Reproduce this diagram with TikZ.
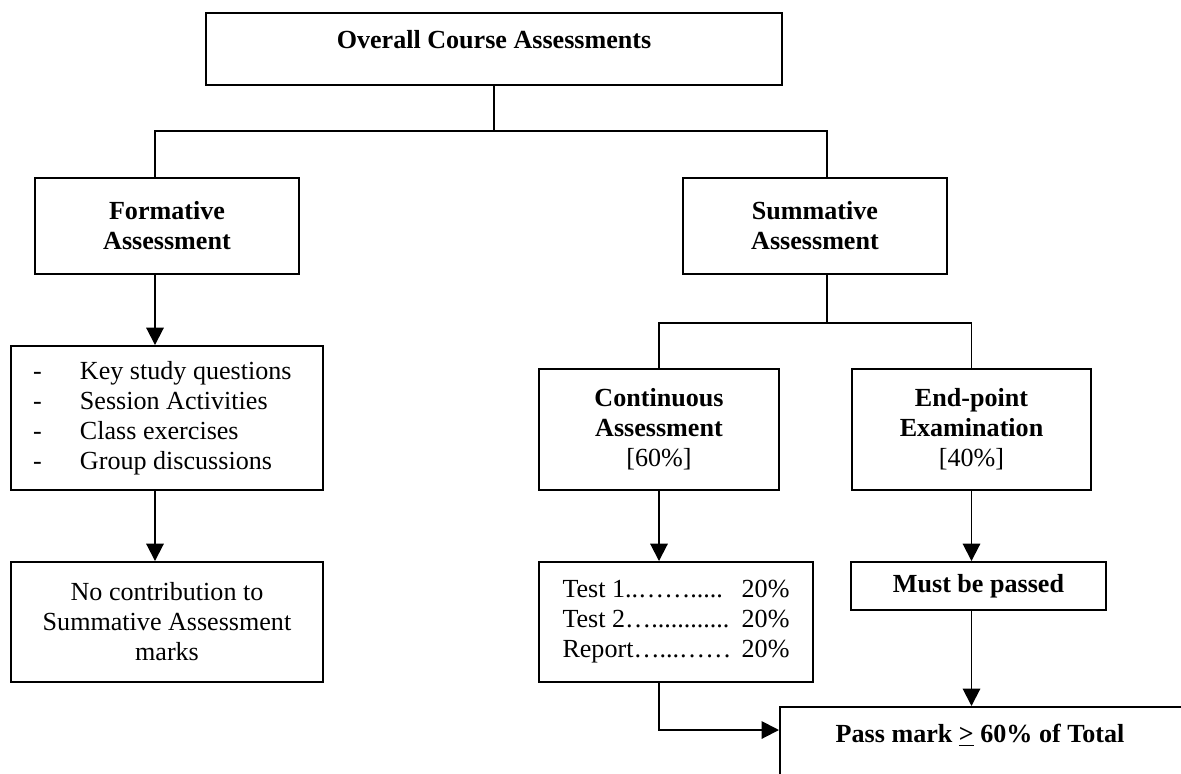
\documentclass[tikz,border=0pt]{standalone}
\usepackage{fontspec}
\setmainfont{Liberation Serif}
\usetikzlibrary{arrows.meta, positioning, calc}
\newlength{\pxu}
\setlength{\pxu}{0.46pt}

\begin{document}
\begin{tikzpicture}[
    x=0.46pt, y=-0.46pt,
    font=\fontsize{12}{13.8}\selectfont,
    box/.style 2 args={draw, line width=0.9pt, inner sep=0pt, align=center,
                       minimum width=#1\pxu, minimum height=#2\pxu},
    listbox/.style={align=left, text width=#1\pxu},
    link/.style={line width=0.9pt},
    arrow/.style={link, -{Triangle[length=8pt, width=8pt]}},
]
    \useasboundingbox (0,0) rectangle (1181,773);
    \clip (0,0) rectangle (1181,773);

    % top level
    \node[box={576}{72}] (overall) at (494,49) {};
    \node[anchor=base] (overalltxt) at (494,48) {\textbf{Overall Course Assessments}};

    % formative side
    \node[box={264}{96}] (formative) at (167,226) {\textbf{Formative}\\\textbf{Assessment}};
    \node[box={312}{144}, listbox=268] (activities) at (167,418) {\spaceskip=0pt\xspaceskip=0pt
        \makebox[47\pxu][l]{-}Key study questions\\
        \makebox[47\pxu][l]{-}Session Activities\\
        \makebox[47\pxu][l]{-}Class exercises\\
        \makebox[47\pxu][l]{-}Group discussions
    };
    \node[box={312}{120}] (nocontrib) at (167,622) {No contribution to\\Summative Assessment\\marks};

    % summative side
    \node[box={264}{96}] (summative) at (815,226) {\textbf{Summative}\\\textbf{Assessment}};
    \node[box={240}{121}] (continuous) at (659,429.5) {\textbf{Continuous}\\\textbf{Assessment}\\{[60\%]}};
    \node[box={239}{121}] (endpoint) at (971.5,429.5) {\textbf{End-point}\\\textbf{Examination}\\{[40\%]}};
    \node[box={274}{120}, listbox=227] (tests) at (676,622) {\spaceskip=0pt\xspaceskip=0pt
        Test 1..…….....\hfill 20\%\\
        Test 2…............\hfill 20\%\\
        Report…...……\hfill 20\%
    };
    \node[box={255}{48}] (mustpass) at (978.5,586) {\textbf{Must be passed}};
    \node[box={420}{110}, anchor=north west] (passmark) at (779,706) {};
    \node[anchor=base] (passtxt) at (980,742) {\textbf{Pass mark \underline{>} 60\% of Total}};

    % connectors
    \draw[link] (overall.south) -- ([yshift=-45\pxu]overall.south);
    \draw[link] ([xshift=-12\pxu]formative.north) |- ([yshift=-45\pxu]overall.south)
        -| ([xshift=12\pxu]summative.north);
    \draw[arrow] ([xshift=-12\pxu]formative.south) -- ([xshift=-12\pxu]activities.north);
    \draw[arrow] ([xshift=-12\pxu]activities.south) -- ([xshift=-12\pxu]nocontrib.north);
    \draw[link] ([xshift=12\pxu]summative.south) -- ([xshift=12\pxu, yshift=-48\pxu]summative.south);
    \draw[link] (continuous.north) |- ([xshift=12\pxu, yshift=-48\pxu]summative.south) -| (endpoint.north);
    \draw[arrow] (continuous.south) -- (continuous.south |- tests.north);
    \draw[arrow] (endpoint.south) -- (endpoint.south |- mustpass.north);
    \draw[arrow] (endpoint.south |- mustpass.south) -- (endpoint.south |- passmark.north);
    \draw[arrow] (continuous.south |- tests.south) |- ([yshift=-24\pxu]passmark.north west);
\end{tikzpicture}
\end{document}
